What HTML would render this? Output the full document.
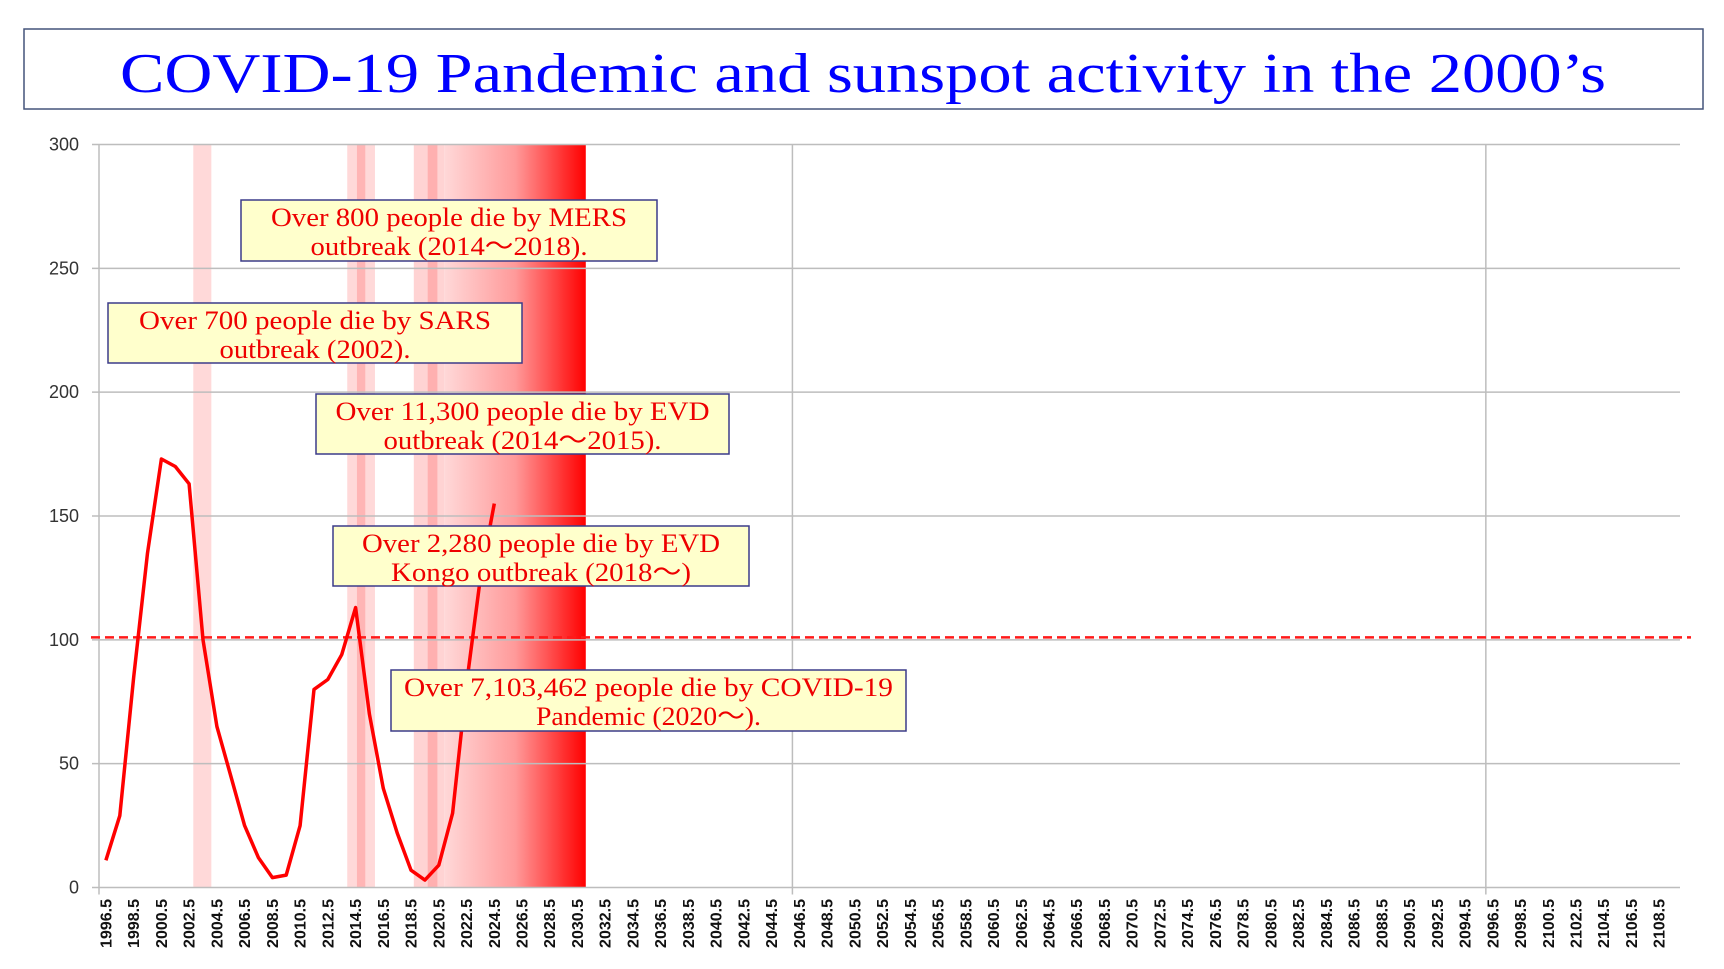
<!DOCTYPE html>
<html><head><meta charset="utf-8"><style>
html,body{margin:0;padding:0;background:#fff;}
svg{display:block;}
</style></head><body>
<svg id="chart" width="1724" height="969" viewBox="0 0 1724 969" xmlns="http://www.w3.org/2000/svg">
<defs>
<linearGradient id="covidGrad" x1="0" x2="1" y1="0" y2="0">
<stop offset="0" stop-color="#ffd8d8"/>
<stop offset="0.5" stop-color="#ff9a9a"/>
<stop offset="1" stop-color="#ff0000"/>
</linearGradient>
</defs>
<rect x="24" y="29" width="1679" height="80" fill="#fff" stroke="#44547a" stroke-width="1.5"/>
<text x="863" y="92" text-anchor="middle" font-family="'Liberation Serif',serif" font-size="56" fill="#0000ff" textLength="1486" lengthAdjust="spacingAndGlyphs">COVID-19 Pandemic and sunspot activity in the 2000’s</text>
<g id="bands"></g>
<g id="grid"></g>
<g id="axes"></g>
<g id="series"></g>
<g id="notes"></g>
</svg>
<script>
const startYear = 1996.5;
const nCats = 114;
const sunspotValues = [11,29,85,135,173,170,163,100,65,45,25,12,4,5,25,80,84,94,113,70,40,22,7,3,9,30,82,125,155];
const yTicks = [0,50,100,150,200,250,300];
const thresholdValue = 101;
const bandStarts = [6.8, 17.9, 18.6, 22.7, 23.7];
const bandEnds = [8.1, 19.9, 19.2, 24.9, 24.4];
const bandColors = ['#ffd9d9','#ffd9d9','#ffb5b5','#ffd3d3','#ffb0b0'];
const gradStart = 24.9, gradEnd = 35.1;
const noteLines1 = ['Over 800 people die by MERS','Over 700 people die by SARS','Over 11,300 people die by EVD','Over 2,280 people die by EVD','Over  7,103,462 people die by COVID-19'];
const noteLines2 = ['outbreak (2014～2018).','outbreak (2002).','outbreak (2014～2015).','Kongo outbreak (2018～)','Pandemic (2020～).'];

const X0=99, X1=1680, Y0=887.5, Y1=144.5;
const cw=(X1-X0)/nCats;
const xc=i=>X0+(i+0.5)*cw;
const xe=i=>X0+i*cw;
const y=v=>Y0-(v/300)*(Y0-Y1);
const NS='http://www.w3.org/2000/svg';
function mk(tag,attrs,parent,txt){const e=document.createElementNS(NS,tag);for(const k in attrs)e.setAttribute(k,attrs[k]);if(txt!==undefined)e.textContent=txt;parent.appendChild(e);return e;}
const bands=document.getElementById('bands'),grid=document.getElementById('grid'),axes=document.getElementById('axes'),series=document.getElementById('series'),notes=document.getElementById('notes');

bandStarts.forEach((s,i)=>{
  const r=mk('rect',{x:xe(s),y:Y1,width:xe(bandEnds[i])-xe(s),height:Y0-Y1,fill:bandColors[i]},bands);
  
  
});
const g=mk('rect',{x:xe(gradStart),y:Y1,width:xe(gradEnd)-xe(gradStart),height:Y0-Y1,fill:'url(#covidGrad)'},bands);



yTicks.forEach(v=>{
  const l=mk('line',{x1:X0-7,x2:X1,y1:y(v),y2:y(v),stroke:'#bdbdbd','stroke-width':1.5},grid);
  
  
  const t=mk('text',{x:79,y:y(v)+6,'text-anchor':'end','font-family':"'Liberation Sans',sans-serif",'font-size':18,fill:'#333'},axes,String(v));
  
  
});
[0,50,100].forEach(k=>{
  const l=mk('line',{x1:xe(k),x2:xe(k),y1:Y1,y2:Y0+7,stroke:'#bdbdbd','stroke-width':1.5},grid);
  
  
});
for(let i=0;i<nCats;i+=2){
  const lab=(startYear+i).toFixed(1);
  const t=mk('text',{transform:`translate(${xc(i)+5.5},899) rotate(-90)`,'text-anchor':'end','font-family':"'Liberation Sans',sans-serif",'font-size':16,'font-weight':'bold',fill:'#111'},axes,lab);
  
  
}
const th=mk('line',{x1:X0-8,x2:1691,y1:y(thresholdValue),y2:y(thresholdValue),stroke:'#ff1a1a','stroke-width':2.5,'stroke-dasharray':'9,5'},series);


const pts=sunspotValues.map((v,i)=>xc(i).toFixed(1)+','+y(v).toFixed(1)).join(' ');
const pl=mk('polyline',{points:pts,fill:'none',stroke:'#ff0000','stroke-width':3.5,'stroke-linejoin':'round'},series);



const boxX=[241,108,316,333,391], boxY=[200,303,394,526,670], boxW=[416,414,413,416,515], boxH=[61,60,60,60,61];
const len1=[356,352,374,358,489], len2=[277,191,278,300,225];
noteLines1.forEach((l1,i)=>{
  const gg=mk('g',{},notes);
  
  
  mk('rect',{x:boxX[i],y:boxY[i],width:boxW[i],height:boxH[i],fill:'#ffffcc',stroke:'#3b3b8a','stroke-width':1.5},gg);
  const cx=boxX[i]+boxW[i]/2;
  const t1=mk('text',{x:cx,y:boxY[i]+26,'text-anchor':'middle','font-family':"'Liberation Serif',serif",'font-size':26,fill:'#ee0000',textLength:len1[i],lengthAdjust:'spacingAndGlyphs'},gg,l1);
  
  
  const t2=mk('text',{x:cx,y:boxY[i]+55,'text-anchor':'middle','font-family':"'Liberation Serif',serif",'font-size':26,fill:'#ee0000',textLength:len2[i],lengthAdjust:'spacingAndGlyphs'},gg,noteLines2[i]);
  
  
});
</script>
</body></html>
